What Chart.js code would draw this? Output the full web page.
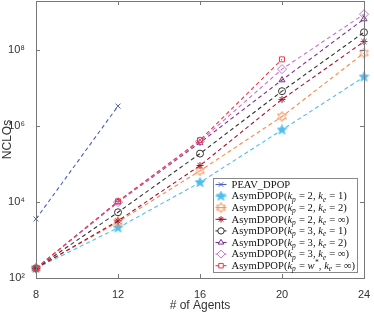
<!DOCTYPE html>
<html>
<head>
<meta charset="utf-8">
<script src="https://cdn.jsdelivr.net/npm/chart.js@4/dist/chart.umd.min.js"></script>
<style>
  html, body { margin: 0; padding: 0; background: #fff; }
  #wrap { width: 374px; height: 313px; }
</style>
</head>
<body>
<div id="wrap"><canvas id="my-chart"></canvas></div>
<script>
"use strict";

// data
const agents = [8, 12, 16, 20, 24];
const peav = [3600, 3.4e6, null, null, null];
const kp2ke1 = [180, 2100, 3.3e4, 8e5, 2e7];
const kp2ke2 = [180, 3000, 6.7e4, 1.8e6, 8.5e7];
const kp2keInf = [180, 3200, 9.2e4, 5.1e6, 1.7e8];
const kp3ke1 = [180, 5400, 1.9e5, 8.4e6, 3e8];
const kp3ke2 = [180, 1.0e4, 3.7e5, 1.65e7, 6.7e8];
const kp3keInf = [180, 1.0e4, 4e5, 3.2e7, 9e8];
const kpwkeInf = [180, 1.05e4, 4.3e5, 5.8e7, null];
const seriesNames = [
  "PEAV_DPOP",
  "AsymDPOP(k_p = 2, k_e = 1)",
  "AsymDPOP(k_p = 2, k_e = 2)",
  "AsymDPOP(k_p = 2, k_e = ∞)",
  "AsymDPOP(k_p = 3, k_e = 1)",
  "AsymDPOP(k_p = 3, k_e = 2)",
  "AsymDPOP(k_p = 3, k_e = ∞)",
  "AsymDPOP(k_p = w^*, k_e = ∞)",
];
const xTicks = [8, 12, 16, 20, 24];
const yTicks = [1e2, 1e4, 1e6, 1e8];
const yTickLabels = ["10²", "10⁴", "10⁶", "10⁸"];

// little marker images for shapes chart.js does not have
function makeStar(color, points, filled) {
  const c = document.createElement("canvas");
  c.width = 11;
  c.height = 11;
  const g = c.getContext("2d");
  const outer = 5, inner = points === 5 ? 2.1 : 2.7;
  g.beginPath();
  for (let i = 0; i < points * 2; i++) {
    const r = i % 2 === 0 ? outer : inner;
    const a = -Math.PI / 2 + (i * Math.PI) / points;
    const px = 5.5 + r * Math.cos(a);
    const py = 5.5 + r * Math.sin(a);
    if (i === 0) g.moveTo(px, py);
    else g.lineTo(px, py);
  }
  g.closePath();
  g.lineWidth = 1;
  g.strokeStyle = color;
  g.stroke();
  if (filled) {
    g.fillStyle = color;
    g.fill();
  }
  return c;
}

const colors = ["#4b5fc4", "#4dbeee", "#f7884a", "#a2142f", "#333333", "#7e2f8e", "#c574d3", "#f0384a"];
const styles = [
  "crossRot",
  makeStar(colors[1], 5, true),
  makeStar(colors[2], 6, false),
  "star",
  "circle",
  "triangle",
  "rectRot",
  "rect",
];
const values = [peav, kp2ke1, kp2ke2, kp2keInf, kp3ke1, kp3ke2, kp3keInf, kpwkeInf];

const datasets = [];
for (let i = 0; i < values.length; i++) {
  datasets.push({
    label: seriesNames[i],
    data: agents.map((a, j) => ({ x: a, y: values[i][j] })),
    borderColor: colors[i],
    backgroundColor: "rgba(0,0,0,0)",
    borderWidth: 1.1,
    borderDash: [4, 3],
    pointStyle: styles[i],
    pointRadius: i === 6 ? 4.5 : 3.5,
    pointBorderWidth: 1,
    pointBorderColor: colors[i],
    pointBackgroundColor: "rgba(0,0,0,0)",
    spanGaps: false,
    clip: 10,
    order: values.length - i, // later series on top, like matlab
  });
}

// draws the legend text with italic k and subscripts
function drawRichText(ctx, text, x, y) {
  const size = 10.6;
  const roman = size + "px 'Liberation Serif'";
  const italic = "italic " + size + "px 'Liberation Serif'";
  const small = "italic " + (size * 0.7) + "px 'Liberation Serif'";
  const parts = text.split(/(k_[pe]|w\^\*)/);
  let cx = x;
  ctx.textBaseline = "middle";
  ctx.textAlign = "left";
  for (const p of parts) {
    if (!p) continue;
    if (p.startsWith("k_") || p === "w^*") {
      ctx.font = italic;
      ctx.fillText(p[0], cx, y);
      cx += ctx.measureText(p[0]).width;
      ctx.font = small;
      const sub = p[2];
      ctx.fillText(sub, cx, p === "w^*" ? y - 3 : y + 3);
      cx += ctx.measureText(sub).width + 0.5;
    } else {
      ctx.font = roman;
      ctx.fillText(p, cx, y);
      cx += ctx.measureText(p).width;
    }
  }
}

const boxPlugin = {
  id: "boxPlugin",
  afterDraw(chart) {
    const ctx = chart.ctx;
    const a = chart.chartArea;
    const xs = chart.scales.x;
    const ys = chart.scales.y;
    ctx.save();
    ctx.strokeStyle = "#777";
    ctx.lineWidth = 1;
    ctx.strokeRect(Math.round(a.left) + 0.5, Math.round(a.top) + 0.5, Math.round(a.right - a.left), Math.round(a.bottom - a.top));
    ctx.beginPath();
    for (const t of xTicks) {
      const px = Math.round(xs.getPixelForValue(t)) + 0.5;
      ctx.moveTo(px, a.bottom);
      ctx.lineTo(px, a.bottom - 4);
      ctx.moveTo(px, a.top);
      ctx.lineTo(px, a.top + 4);
    }
    for (const t of yTicks) {
      const py = Math.round(ys.getPixelForValue(t)) + 0.5;
      ctx.moveTo(a.left, py);
      ctx.lineTo(a.left + 4, py);
      ctx.moveTo(a.right, py);
      ctx.lineTo(a.right - 4, py);
    }
    ctx.stroke();

    // legend box
    const lx = 213.5, ly = 178.5, lw = 144, lh = 94;
    ctx.fillStyle = "#fff";
    ctx.fillRect(lx, ly, lw, lh);
    ctx.strokeStyle = "#888";
    ctx.strokeRect(lx, ly, lw, lh);
    const rowH = 11.6;
    for (let i = 0; i < datasets.length; i++) {
      const ds = datasets[i];
      const cy = ly + 6 + rowH * i;
      ctx.strokeStyle = ds.borderColor;
      ctx.lineWidth = 1.1;
      ctx.setLineDash([]);
      ctx.beginPath();
      ctx.moveTo(lx + 2, cy);
      ctx.lineTo(lx + 13, cy);
      ctx.stroke();
      const st = ds.pointStyle;
      if (typeof st === "string") {
        ctx.fillStyle = "#fff";
        ctx.lineWidth = 1;
        const o = { pointStyle: st, radius: i === 6 ? 4 : 3.2, rotation: 0, borderWidth: 1 };
        Chart.helpers.drawPoint(ctx, o, lx + 7.5, cy);
      } else {
        ctx.drawImage(st, lx + 7.5 - 5.5, cy - 5.5);
      }
      ctx.fillStyle = "#111";
      drawRichText(ctx, ds.label, lx + 18, cy + 0.5);
    }
    ctx.restore();
  },
};

new Chart(document.getElementById("my-chart"), {
  type: "line",
  data: { datasets: datasets },
  plugins: [boxPlugin],
  options: {
    responsive: true,
    maintainAspectRatio: false,
    animation: false,
    layout: { autoPadding: false, padding: { top: 1, right: 10, left: 0, bottom: 0 } },
    plugins: {
      legend: { display: false },
      tooltip: { enabled: false },
    },
    scales: {
      x: {
        type: "linear",
        min: 8,
        max: 24,
        grid: { display: false },
        border: { display: false },
        afterBuildTicks: (axis) => {
          axis.ticks = xTicks.map((v) => ({ value: v }));
        },
        afterFit: (axis) => {
          axis.height = 35;
          axis.paddingLeft = 0;
          axis.paddingRight = 0;
        },
        ticks: {
          color: "#333",
          font: { family: "Liberation Sans", size: 11 },
          padding: 2,
          maxRotation: 0,
        },
        title: {
          display: true,
          text: "# of Agents",
          color: "#333",
          font: { family: "Liberation Sans", size: 12 },
          padding: { top: 0, bottom: 0 },
        },
      },
      y: {
        type: "logarithmic",
        min: 100,
        max: 2e9,
        grid: { display: false },
        border: { display: false },
        afterBuildTicks: (axis) => {
          axis.ticks = yTicks.map((v) => ({ value: v }));
        },
        afterFit: (axis) => {
          axis.width = 36;
          axis.paddingTop = 0;
          axis.paddingBottom = 0;
        },
        ticks: {
          color: "#333",
          font: { family: "Liberation Sans", size: 11 },
          padding: 3,
          callback: (v) => {
            const i = yTicks.indexOf(v);
            return i >= 0 ? yTickLabels[i] : "";
          },
        },
        title: {
          display: true,
          text: "NCLOs",
          color: "#333",
          font: { family: "Liberation Sans", size: 12 },
          padding: { top: 0, bottom: 0 },
        },
      },
    },
  },
});
</script>
</body>
</html>
